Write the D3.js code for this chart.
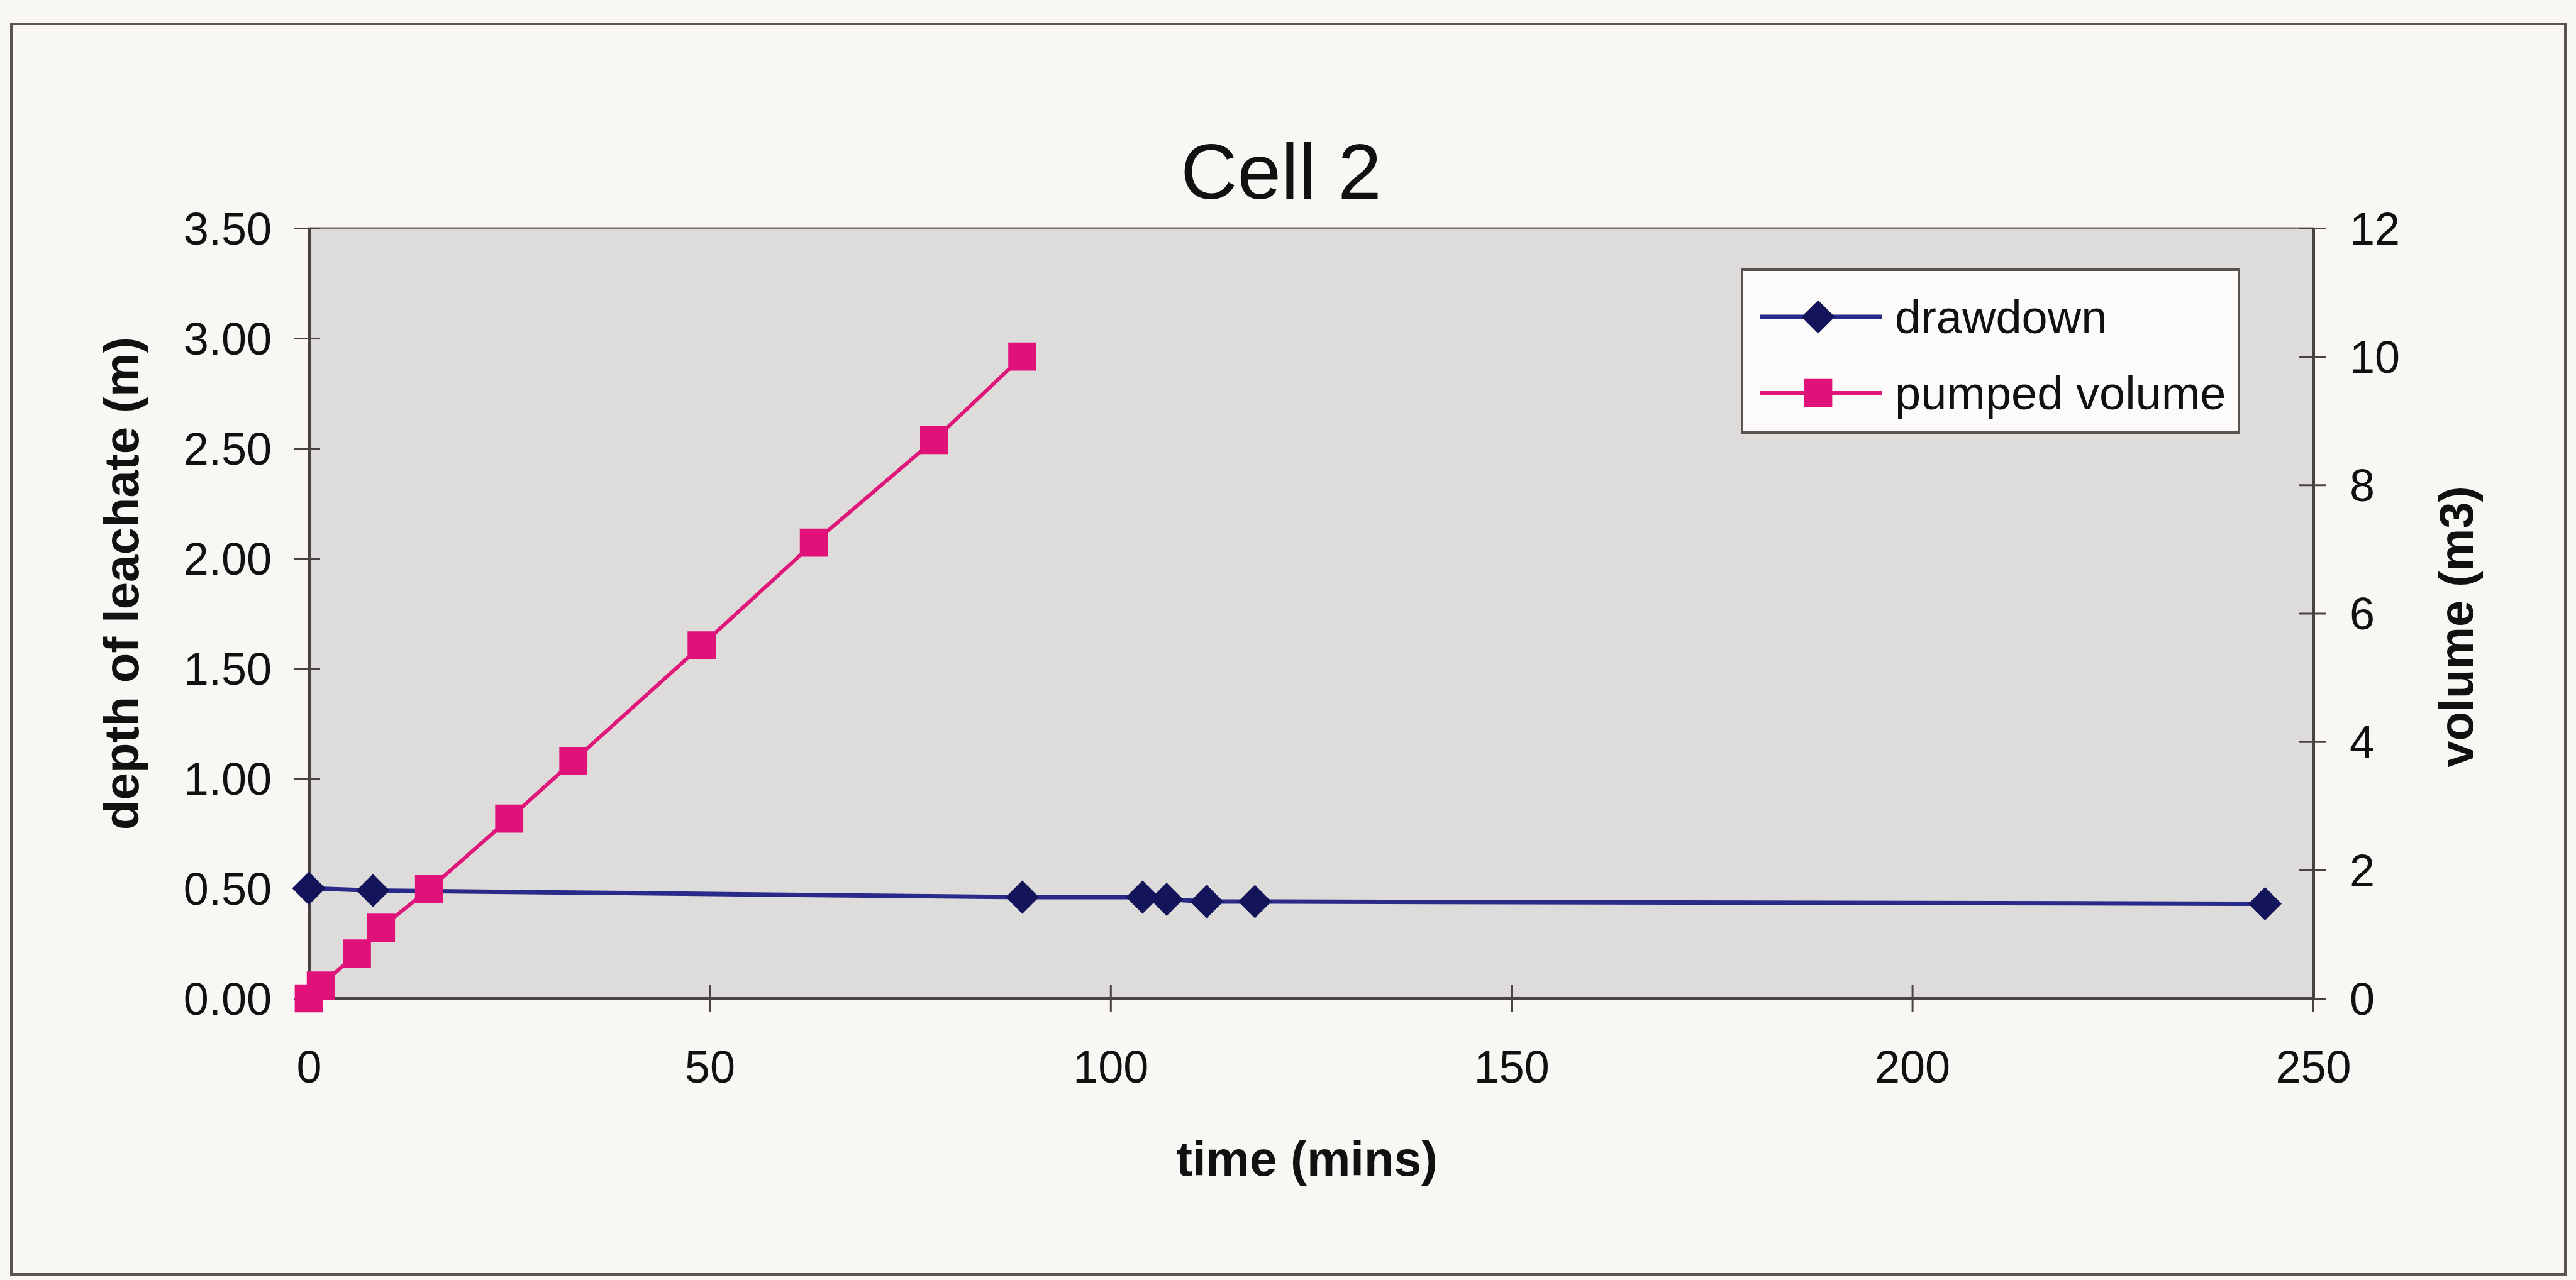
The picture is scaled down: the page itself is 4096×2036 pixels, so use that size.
<!DOCTYPE html>
<html><head><meta charset="utf-8">
<script src="https://cdn.jsdelivr.net/npm/d3@7"></script>
<style>html,body{margin:0;padding:0;background:#f9f7f4;} svg{display:block;font-family:"Liberation Sans",Arial,sans-serif;}</style>
</head><body><svg id="chart" width="4096" height="2036"></svg>
<script>
// ---- data ----
const titleText = "Cell 2";
const xTicks = [0, 50, 100, 150, 200, 250];
const depthTicks = [0, 0.5, 1, 1.5, 2, 2.5, 3, 3.5];
const volumeTicks = [0, 2, 4, 6, 8, 10, 12];
const seriesNames = ["drawdown", "pumped volume"];
const drawdownTime  = [0, 8, 89, 104, 107, 112, 118, 244];
const drawdownDepth = [0.50, 0.49, 0.46, 0.46, 0.45, 0.44, 0.44, 0.43];
const pumpedTime   = [0, 1.5, 6, 9, 15, 25, 33, 49, 63, 78, 89];
const pumpedVolume = [0, 0.2, 0.7, 1.1, 1.7, 2.8, 3.7, 5.5, 7.1, 8.7, 10.0];
const xTitle = "time (mins)";
const yLeftTitle = "depth of leachate (m)";
const yRightTitle = "volume (m3)";

// ---- layout ----
const W = 4096, H = 2036;
const plot = {left: 491, right: 3678, top: 363, bottom: 1588};
const svg = d3.select("#chart");
const x = d3.scaleLinear().domain([0, 250]).range([plot.left, plot.right]);
const yL = d3.scaleLinear().domain([0, 3.5]).range([plot.bottom, plot.top]);
const yR = d3.scaleLinear().domain([0, 12]).range([plot.bottom, plot.top]);
const axisColor = "#4a4242";
const blue = "#2a2a8a", blueMarker = "#14145a";
const pink = "#e0177a", pinkMarker = "#e0127a";
const font = "'Liberation Sans', Arial, sans-serif";

svg.append("rect").attr("width", W).attr("height", H).attr("fill", "#f9f7f4");
svg.append("rect").attr("x", 18).attr("y", 38).attr("width", 4061).attr("height", 1989)
  .attr("fill", "none").attr("stroke", "#5b5252").attr("stroke-width", 4);

// plot area
svg.append("rect").attr("x", plot.left).attr("y", plot.top)
  .attr("width", plot.right - plot.left).attr("height", plot.bottom - plot.top)
  .attr("fill", "#dedcda").attr("stroke", "#7a7070").attr("stroke-width", 3);

// axes
const gL = svg.append("g").attr("transform", `translate(${plot.left},0)`)
  .call(d3.axisLeft(yL).tickValues(depthTicks).tickFormat(d3.format(".2f")).tickSizeOuter(0));
const gR = svg.append("g").attr("transform", `translate(${plot.right},0)`)
  .call(d3.axisRight(yR).tickValues(volumeTicks).tickFormat(d3.format("d")).tickSizeOuter(0));
const gB = svg.append("g").attr("transform", `translate(0,${plot.bottom})`)
  .call(d3.axisBottom(x).tickValues(xTicks).tickFormat(d3.format("d")).tickSizeOuter(0));
[gL, gR, gB].forEach(g => {
  g.attr("font-size", 72).attr("font-family", font);
  g.select(".domain").attr("stroke", axisColor).attr("stroke-width", 5);
  g.selectAll(".tick line").attr("stroke", axisColor).attr("stroke-width", 3);
  g.selectAll(".tick text").attr("fill", "#111");
});
gL.selectAll(".tick line").attr("x1", 18).attr("x2", -24);
gL.selectAll(".tick text").attr("x", -59).attr("dy", "0.35em");
gR.selectAll(".tick line").attr("x1", -22).attr("x2", 20);
gR.selectAll(".tick text").attr("x", 58).attr("dy", "0.35em");
gB.selectAll(".tick line").attr("y1", -22).attr("y2", 22);
gB.selectAll(".tick text").attr("y", 134).attr("dy", 0);

// titles
svg.append("text").attr("x", 2037).attr("y", 316).attr("text-anchor", "middle")
  .attr("font-size", 125).attr("font-family", font).attr("fill", "#111").text(titleText);
svg.append("text").attr("transform", "translate(220,928) rotate(-90)").attr("text-anchor", "middle")
  .attr("font-size", 78).attr("font-weight", "bold").attr("font-family", font).attr("fill", "#111").text(yLeftTitle);
svg.append("text").attr("transform", "translate(3932,997) rotate(-90)").attr("text-anchor", "middle")
  .attr("font-size", 76).attr("font-weight", "bold").attr("font-family", font).attr("fill", "#111").text(yRightTitle);
svg.append("text").attr("x", 2078).attr("y", 1870).attr("text-anchor", "middle")
  .attr("font-size", 78).attr("font-weight", "bold").attr("font-family", font).attr("fill", "#111").text(xTitle);

// series
const drawdown = drawdownTime.map((t, i) => ({t, v: drawdownDepth[i]}));
const pumped = pumpedTime.map((t, i) => ({t, v: pumpedVolume[i]}));
const diamond = d3.symbol().type(d3.symbolSquare).size(1400);
const square = d3.symbol().type(d3.symbolSquare).size(2000);

svg.append("path").datum(drawdown)
  .attr("d", d3.line().x(d => x(d.t)).y(d => yL(d.v)))
  .attr("fill", "none").attr("stroke", blue).attr("stroke-width", 7);
svg.append("g").selectAll("path").data(drawdown).join("path")
  .attr("d", diamond).attr("transform", d => `translate(${x(d.t)},${yL(d.v)}) rotate(45)`)
  .attr("fill", blueMarker);

svg.append("path").datum(pumped)
  .attr("d", d3.line().x(d => x(d.t)).y(d => yR(d.v)))
  .attr("fill", "none").attr("stroke", pink).attr("stroke-width", 6);
svg.append("g").selectAll("path").data(pumped).join("path")
  .attr("d", square).attr("transform", d => `translate(${x(d.t)},${yR(d.v)})`)
  .attr("fill", pinkMarker);

// legend
const lg = svg.append("g");
lg.append("rect").attr("x", 2770).attr("y", 429).attr("width", 790).attr("height", 259)
  .attr("fill", "#fcfbf9").attr("stroke", "#5b5252").attr("stroke-width", 4);
const rows = [
  {name: seriesNames[0], y: 504, color: blue, mcol: blueMarker, sym: diamond, rot: 45, sw: 7},
  {name: seriesNames[1], y: 625, color: pink, mcol: pinkMarker, sym: square, rot: 0, sw: 6}
];
rows.forEach(r => {
  lg.append("line").attr("x1", 2799).attr("x2", 2992).attr("y1", r.y).attr("y2", r.y)
    .attr("stroke", r.color).attr("stroke-width", r.sw);
  lg.append("path").attr("d", r.sym).attr("transform", `translate(2891,${r.y}) rotate(${r.rot})`)
    .attr("fill", r.mcol);
  lg.append("text").attr("x", 3013).attr("y", r.y).attr("dy", "0.35em")
    .attr("font-size", 74).attr("font-family", font).attr("fill", "#111").text(r.name);
});
</script></body></html>
